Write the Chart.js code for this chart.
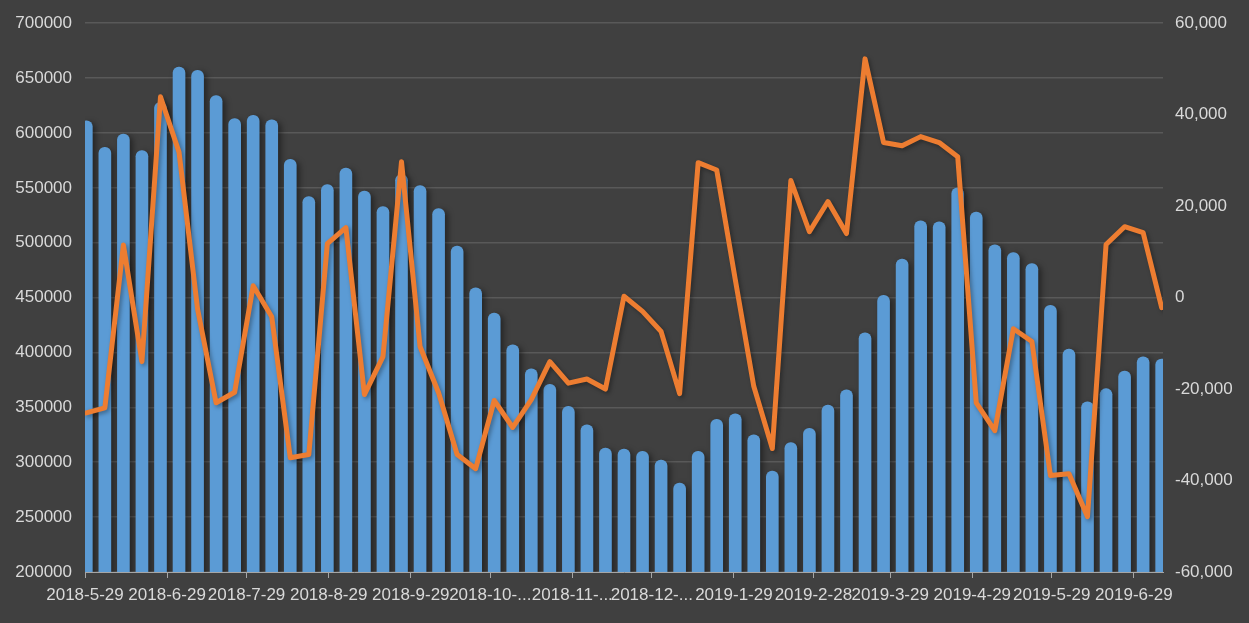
<!DOCTYPE html>
<html>
<head>
<meta charset="utf-8">
<title>Weekly chart</title>
<script src="https://cdn.jsdelivr.net/npm/chart.js@4"></script>
<style>
  html, body { margin: 0; padding: 0; background: #404040; }
  #wrap { width: 1249px; height: 623px; }
</style>
</head>
<body>
<div id="wrap"><canvas id="weeklyChart" width="1249" height="623"></canvas></div>
<script>
// Data
const weekDates = [
  '2018-05-29', '2018-06-05', '2018-06-12', '2018-06-19', '2018-06-26', '2018-07-03', '2018-07-10', '2018-07-17',
  '2018-07-24', '2018-07-31', '2018-08-07', '2018-08-14', '2018-08-21', '2018-08-28', '2018-09-04', '2018-09-11',
  '2018-09-18', '2018-09-25', '2018-10-02', '2018-10-09', '2018-10-16', '2018-10-23', '2018-10-30', '2018-11-06',
  '2018-11-13', '2018-11-20', '2018-11-27', '2018-12-04', '2018-12-11', '2018-12-18', '2018-12-25', '2019-01-01',
  '2019-01-08', '2019-01-15', '2019-01-22', '2019-01-29', '2019-02-05', '2019-02-12', '2019-02-19', '2019-02-26',
  '2019-03-05', '2019-03-12', '2019-03-19', '2019-03-26', '2019-04-02', '2019-04-09', '2019-04-16', '2019-04-23',
  '2019-04-30', '2019-05-07', '2019-05-14', '2019-05-21', '2019-05-28', '2019-06-04', '2019-06-11', '2019-06-18',
  '2019-06-25', '2019-07-02', '2019-07-09'
];

const barValues = [
  611000, 587000, 599000, 584000, 628000, 660000, 657000, 634000,
  613000, 616000, 612000, 576000, 542000, 553000, 568000, 547000,
  533000, 562000, 552000, 531000, 497000, 459000, 436000, 407000,
  385000, 371000, 351000, 334000, 313000, 312000, 310000, 302000,
  281000, 310000, 339000, 344000, 325000, 292000, 318000, 331000,
  352000, 366000, 418000, 452000, 485000, 520000, 519000, 550000,
  528000, 498000, 491000, 481000, 443000, 403000, 355000, 367000,
  383000, 396000, 394000
];

const lineValues = [
  -25200, -24100, 11500, -14000, 43900, 31800, -2500, -23000,
  -20700, 2600, -4200, -35000, -34300, 11800, 15300, -21200,
  -12900, 29700, -10700, -20800, -34300, -37400, -22500, -28400,
  -22300, -14000, -18700, -17800, -20000, 300, -3000, -7400,
  -21000, 29500, 27900, 4000, -19400, -33000, 25600, 14400,
  21000, 14000, 52200, 33900, 33200, 35200, 33900, 30800,
  -23000, -29100, -6800, -9600, -38900, -38500, -47900, 11600,
  15500, 14200, -2200
];

const tickDates = [
  '2018-05-29', '2018-06-29', '2018-07-29', '2018-08-29', '2018-09-29', '2018-10-29', '2018-11-29',
  '2018-12-29', '2019-01-29', '2019-02-28', '2019-03-29', '2019-04-29', '2019-05-29', '2019-06-29'
];
const tickLabels = [
  '2018-5-29', '2018-6-29', '2018-7-29', '2018-8-29', '2018-9-29', '2018-10-...', '2018-11-...',
  '2018-12-...', '2019-1-29', '2019-2-28', '2019-3-29', '2019-4-29', '2019-5-29', '2019-6-29'
];

// days since the first date, so the x axis works like a date axis
function dayOffset(str) {
  const p = str.split('-').map(Number);
  const start = Date.UTC(2018, 4, 29);
  return Math.round((Date.UTC(p[0], p[1] - 1, p[2]) - start) / 86400000);
}

const tickDays = tickDates.map(dayOffset);
const lastDay = dayOffset(weekDates[weekDates.length - 1]) + 1;
const barPoints = weekDates.map((d, i) => ({ x: dayOffset(d) + 0.5, y: barValues[i] }));
const linePoints = weekDates.map((d, i) => ({ x: dayOffset(d) + 0.5, y: lineValues[i] }));

// Shadow under marks, like the office chart
const shadowPlugin = {
  id: 'markShadow',
  beforeDatasetDraw(chart, args) {
    const ctx = chart.ctx;
    ctx.save();
    if (args.meta.type === 'bar') {
      ctx.shadowColor = 'rgba(0, 0, 0, 0.45)';
      ctx.shadowBlur = 6;
      ctx.shadowOffsetX = 3;
      ctx.shadowOffsetY = 2;
    } else {
      ctx.shadowColor = 'rgba(0, 0, 0, 0.35)';
      ctx.shadowBlur = 4;
      ctx.shadowOffsetX = 2;
      ctx.shadowOffsetY = 2;
    }
  },
  afterDatasetDraw(chart) {
    chart.ctx.restore();
  }
};

const labelColor = '#d9d9d9';
const labelFont = { family: '"Liberation Sans", Arial, sans-serif', size: 17 };

document.addEventListener('DOMContentLoaded', () => {
  const ctx = document.getElementById('weeklyChart').getContext('2d');
  new Chart(ctx, {
    data: {
      datasets: [
        {
          type: 'line',
          data: linePoints,
          yAxisID: 'y2',
          borderColor: '#ED7D31',
          borderWidth: 5,
          borderJoinStyle: 'round',
          borderCapStyle: 'round',
          pointRadius: 0,
          tension: 0,
          order: 0
        },
        {
          type: 'bar',
          data: barPoints,
          yAxisID: 'y',
          backgroundColor: '#5B9BD5',
          barThickness: 12,
          borderRadius: { topLeft: 6, topRight: 6 },
          borderSkipped: 'bottom',
          order: 1
        }
      ]
    },
    options: {
      responsive: false,
      animation: false,
      layout: { padding: { top: 23, left: 0, right: 0, bottom: 0 } },
      plugins: {
        legend: { display: false },
        tooltip: { enabled: false }
      },
      scales: {
        x: {
          type: 'linear',
          min: 0,
          max: lastDay,
          offset: false,
          afterBuildTicks: (scale) => {
            scale.ticks = tickDays.map(v => ({ value: v }));
          },
          afterFit: (scale) => { scale.height = 51; },
          ticks: {
            autoSkip: false,
            maxRotation: 0,
            color: labelColor,
            font: labelFont,
            padding: 7,
            callback: (value, index) => tickLabels[index]
          },
          grid: { offset: false, drawOnChartArea: false, drawTicks: true, tickLength: 6, color: '#a6a6a6' },
          border: { display: true, color: '#a6a6a6', width: 1 }
        },
        y: {
          position: 'left',
          min: 200000,
          max: 700000,
          afterFit: (scale) => { scale.width = 85; },
          ticks: {
            stepSize: 50000,
            color: labelColor,
            font: labelFont,
            padding: 13,
            callback: (value) => String(value)
          },
          grid: { color: '#595959', lineWidth: 1.5, drawTicks: false },
          border: { display: false }
        },
        y2: {
          position: 'right',
          min: -60000,
          max: 60000,
          afterFit: (scale) => { scale.width = 86; },
          ticks: {
            stepSize: 20000,
            color: labelColor,
            font: labelFont,
            padding: 12,
            callback: (value) => value.toLocaleString('en-US')
          },
          grid: { drawOnChartArea: false, drawTicks: false },
          border: { display: false }
        }
      }
    },
    plugins: [shadowPlugin]
  });
});
</script>
</body>
</html>
